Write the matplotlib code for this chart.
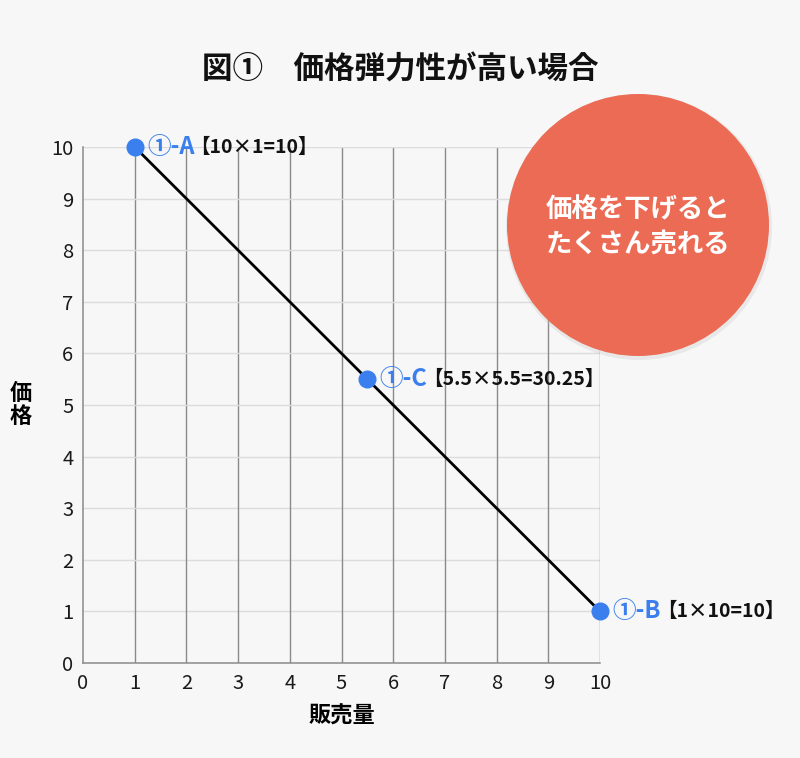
import matplotlib
matplotlib.use("Agg")
import matplotlib.pyplot as plt
from matplotlib.patches import Ellipse

plt.rcParams['font.family'] = ['Noto Sans CJK JP', 'DejaVu Sans']

# data
sales = [1, 5.5, 10]
prices = [10, 5.5, 1]
point_names = ["①-A", "①-C", "①-B"]
point_calcs = ["【10×1=10】", "【5.5×5.5=30.25】", "【1×10=10】"]
ticks = list(range(0, 11))
title = "図①　価格弾力性が高い場合"
xlabel = "販売量"
ylabel = "価\n格"
bubble_text = "価格を下げると\nたくさん売れる"

BG = "#f7f7f7"
BLUE = "#3b7fee"
fig = plt.figure(figsize=(8, 7.58), dpi=100, facecolor=BG)
ax = fig.add_axes([83/800, 1-663/758, 517/800, 516/758], facecolor=BG)
ax.set_xlim(0, 10)
ax.set_ylim(0, 10)
ax.set_xticks(ticks)
ax.set_yticks(ticks)
ax.tick_params(length=0, labelsize=14.5, colors="#1a1a1a", pad=7)
for s in ["top", "right"]:
    ax.spines[s].set_visible(False)
for s in ["left", "bottom"]:
    ax.spines[s].set_color("#8a8a8a")
    ax.spines[s].set_linewidth(1.1)
for t in ticks[1:]:
    ax.axhline(t, color="#dcdcdc", lw=1.0, zorder=1)
    ax.axvline(t, color="#8a8a8a", lw=1.0, zorder=1)

ax.plot([sales[0], sales[-1]], [prices[0], prices[-1]], color="black", lw=2, zorder=3)
ax.plot(sales, prices, 'o', color=BLUE, ms=12, zorder=4, clip_on=False)

for x, y, n, c in zip(sales, prices, point_names, point_calcs):
    t1 = ax.annotate(n, (x, y), xytext=(9, 0), textcoords="offset points",
                     ha="left", va="center", fontsize=17, fontweight="bold",
                     color=BLUE, zorder=5, annotation_clip=False)
    ax.annotate(c, xy=(1, 0.5), xycoords=t1, xytext=(-3, 0), textcoords="offset points",
                ha="left", va="center", fontsize=14, fontweight="bold",
                color="#111111", zorder=5, annotation_clip=False)

ax.set_xlabel(xlabel, fontsize=16, fontweight="bold", labelpad=8)
ax.set_ylabel(ylabel, fontsize=16, fontweight="bold", rotation=0, va="center",
              linespacing=1.0, labelpad=22)

fig.text(400/800, 1-70/758, title, ha="center", va="center", fontsize=22, fontweight="bold", color="#111111")

circ = Ellipse((638/800, 1-225/758), 262/800, 262/758, transform=fig.transFigure,
               facecolor="#ec6b55", edgecolor="none", zorder=10)
shadow = Ellipse((639/800, 1-227/758), 266/800, 266/758, transform=fig.transFigure,
                 facecolor="#c8c8c8", edgecolor="none", alpha=0.3, zorder=9)
fig.patches.extend([shadow, circ])
fig.text(638/800, 1-227/758, bubble_text, ha="center", va="center", fontsize=19,
         fontweight="bold", color="white", linespacing=1.3, zorder=11)

fig.savefig("out.png", dpi=100, facecolor=BG)
